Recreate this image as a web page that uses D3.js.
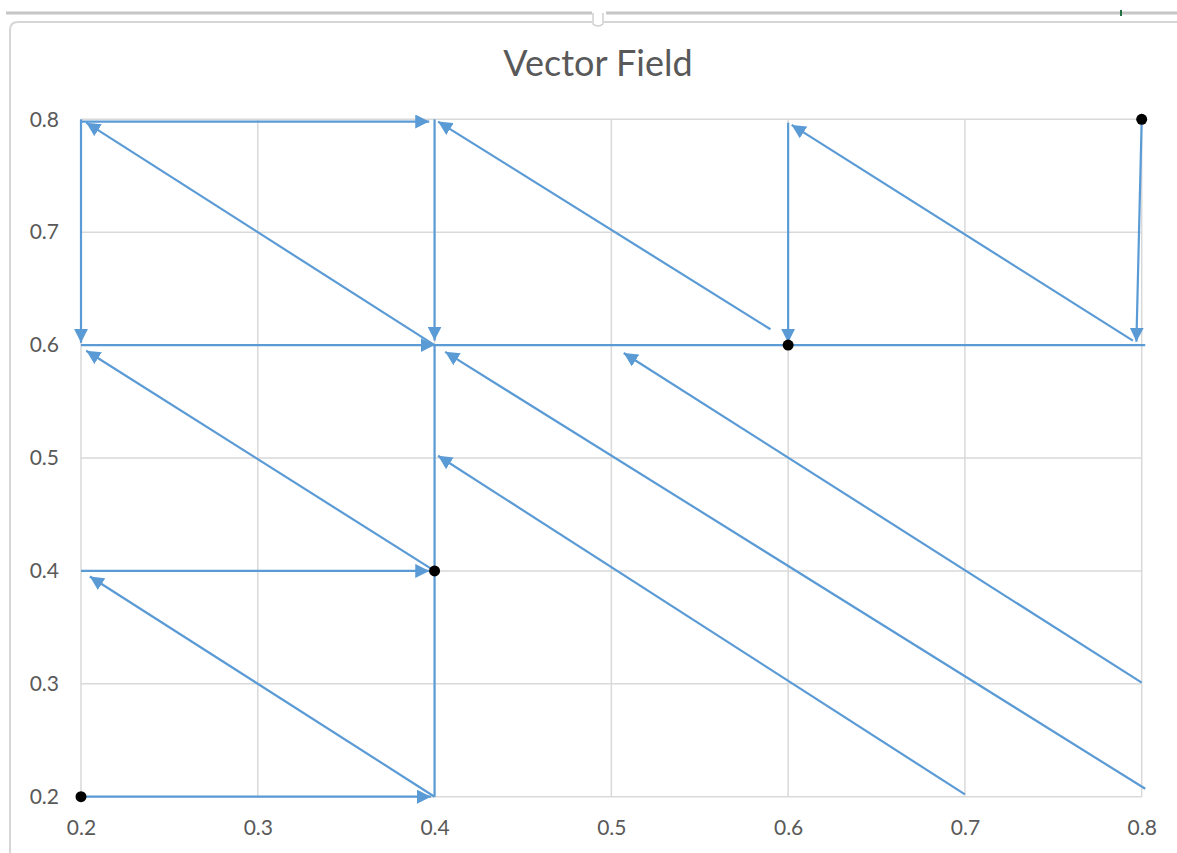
<!DOCTYPE html>
<html>
<head>
<meta charset="utf-8">
<script src="https://cdn.jsdelivr.net/npm/d3@7"></script>
<style>
  body { margin: 0; background: #fff; }
  svg { display: block; }
  .tick text { font-family: Lato, "Open Sans", sans-serif; font-size: 21px; fill: #595959; }
  .title { font-family: Lato, "Open Sans", sans-serif; font-size: 36px; fill: #595959; }
</style>
</head>
<body>
<svg width="1177" height="853"></svg>
<script>
const width = 1177;
const height = 853;

// tick values on both axes
const tickValues = [0.2, 0.3, 0.4, 0.5, 0.6, 0.7, 0.8];

// vectors drawn with an arrow head: start and end points
const arrowStart = [
    [0.2, 0.2], [0.2, 0.4], [0.2, 0.6], [0.2, 0.798],
    [0.2, 0.8], [0.4, 0.8], [0.6, 0.797], [0.8, 0.8],
    [0.4, 0.2], [0.4, 0.4], [0.4, 0.6], [0.59, 0.614],
    [0.795, 0.604], [0.7, 0.202], [0.802, 0.207], [0.8, 0.301]
];
const arrowEnd = [
    [0.398, 0.2], [0.397, 0.4], [0.4, 0.6], [0.397, 0.798],
    [0.2, 0.602], [0.4, 0.604], [0.6, 0.602], [0.797, 0.603],
    [0.205, 0.395], [0.203, 0.595], [0.203, 0.797], [0.402, 0.798],
    [0.602, 0.795], [0.402, 0.502], [0.406, 0.594], [0.507, 0.593]
];

// segments without a head
const lineStart = [[0.4, 0.2], [0.4, 0.6]];
const lineEnd = [[0.4, 0.6], [0.802, 0.6]];

// black points
const dots = [[0.2, 0.2], [0.4, 0.4], [0.6, 0.6], [0.8, 0.8]];

const svg = d3.select("svg");

// spreadsheet bits behind the chart
svg.append("line")
    .attr("x1", 6).attr("x2", 592).attr("y1", 13).attr("y2", 13)
    .attr("stroke", "#c6c6c6").attr("stroke-width", 3);
svg.append("line")
    .attr("x1", 606).attr("x2", width).attr("y1", 13).attr("y2", 13)
    .attr("stroke", "#c6c6c6").attr("stroke-width", 3);
svg.append("path")
    .attr("d", "M10,853 L10,30 Q10,22 18,22 L592,22 M604,22 L1177,22")
    .attr("fill", "none")
    .attr("stroke", "#d6d6d6")
    .attr("stroke-width", 2);
svg.append("path")
    .attr("d", "M593,13 L593,24 Q598,28 603,24 L603,13")
    .attr("fill", "#fff")
    .attr("stroke", "#d0d0d0")
    .attr("stroke-width", 1.5);
svg.append("line")
    .attr("x1", 1121).attr("x2", 1121).attr("y1", 10).attr("y2", 16)
    .attr("stroke", "#217346").attr("stroke-width", 2);

// scales
const xScale = d3.scaleLinear()
    .domain([0.2, 0.8])
    .range([81, 1141.7]);

const yScale = d3.scaleLinear()
    .domain([0.2, 0.8])
    .range([796.7, 119.3]);

// gridlines
svg.append("g")
    .selectAll("line")
    .data(tickValues)
    .join("line")
    .attr("x1", d => xScale(d))
    .attr("x2", d => xScale(d))
    .attr("y1", yScale(0.8))
    .attr("y2", yScale(0.2))
    .attr("stroke", "#d9d9d9")
    .attr("stroke-width", 1.5);

svg.append("g")
    .selectAll("line")
    .data(tickValues)
    .join("line")
    .attr("x1", xScale(0.2))
    .attr("x2", xScale(0.8))
    .attr("y1", d => yScale(d))
    .attr("y2", d => yScale(d))
    .attr("stroke", "#d9d9d9")
    .attr("stroke-width", 1.5);

// axes (labels only)
const xAxis = d3.axisBottom(xScale)
    .tickValues(tickValues)
    .tickSize(0)
    .tickPadding(23)
    .tickFormat(d3.format(".1f"));

const yAxis = d3.axisLeft(yScale)
    .tickValues(tickValues)
    .tickSize(0)
    .tickPadding(22)
    .tickFormat(d3.format(".1f"));

svg.append("g")
    .attr("transform", `translate(0, ${yScale(0.2)})`)
    .call(xAxis)
    .call(g => g.select(".domain").remove())
    .selectAll("text").attr("font-family", null).attr("font-size", null);

svg.append("g")
    .attr("transform", `translate(${xScale(0.2)}, 0)`)
    .call(yAxis)
    .call(g => g.select(".domain").remove())
    .selectAll("text").attr("font-family", null).attr("font-size", null);

// arrow head
svg.append("defs")
    .append("marker")
    .attr("id", "head")
    .attr("markerUnits", "userSpaceOnUse")
    .attr("markerWidth", 15)
    .attr("markerHeight", 14)
    .attr("refX", 14)
    .attr("refY", 7)
    .attr("orient", "auto")
    .append("path")
    .attr("d", "M0,0 L14,7 L0,14 Z")
    .attr("fill", "#5b9bd5");

const blue = "#5b9bd5";

// plain segments
svg.append("g")
    .selectAll("line")
    .data(d3.zip(lineStart, lineEnd))
    .join("line")
    .attr("x1", d => xScale(d[0][0]))
    .attr("y1", d => yScale(d[0][1]))
    .attr("x2", d => xScale(d[1][0]))
    .attr("y2", d => yScale(d[1][1]))
    .attr("stroke", blue)
    .attr("stroke-width", 2.2);

// vectors
svg.append("g")
    .selectAll("line")
    .data(d3.zip(arrowStart, arrowEnd))
    .join("line")
    .attr("x1", d => xScale(d[0][0]))
    .attr("y1", d => yScale(d[0][1]))
    .attr("x2", d => xScale(d[1][0]))
    .attr("y2", d => yScale(d[1][1]))
    .attr("stroke", blue)
    .attr("stroke-width", 2.2)
    .attr("marker-end", "url(#head)");

// points
svg.append("g")
    .selectAll("circle")
    .data(dots)
    .join("circle")
    .attr("cx", d => xScale(d[0]))
    .attr("cy", d => yScale(d[1]))
    .attr("r", 5.5)
    .attr("fill", "#000");

// title
svg.append("text")
    .attr("x", 598)
    .attr("y", 76)
    .attr("text-anchor", "middle")
    .attr("class", "title")
    .text("Vector Field");
</script>
</body>
</html>
